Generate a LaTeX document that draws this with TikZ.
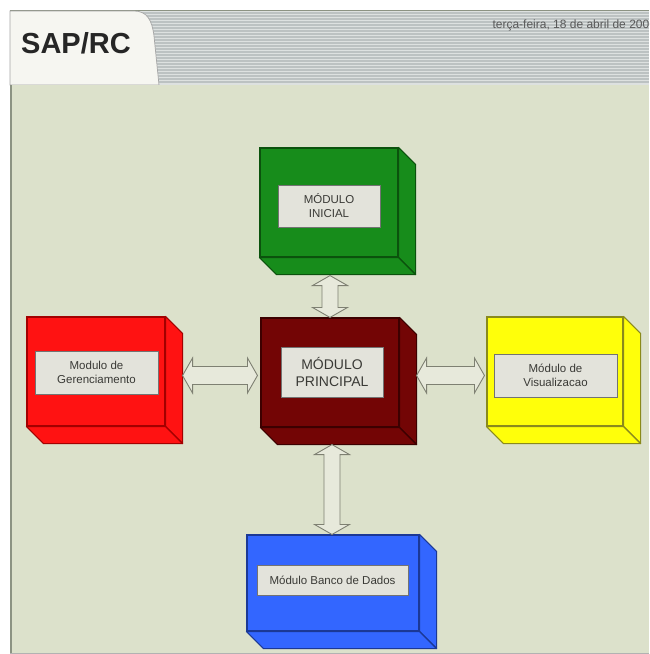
\documentclass[tikz,border=0pt]{standalone}
\usepackage{fontspec}
\setmainfont{Liberation Sans}
\usetikzlibrary{calc}

\definecolor{bodybg}{HTML}{DCE1CB}
\definecolor{stripebg}{HTML}{DDE1E0}
\definecolor{stripeln}{HTML}{BCC2C2}
\definecolor{tabfill}{HTML}{F6F6F1}
\definecolor{framegray}{HTML}{8C9383}
\definecolor{lblfill}{HTML}{E3E3DB}
\definecolor{lbltext}{HTML}{3A3A36}
\definecolor{arrowln}{HTML}{7E8072}
\definecolor{arrowfill}{HTML}{E7E9DB}
\definecolor{gfill}{HTML}{178C1B}\definecolor{gedge}{HTML}{0B520D}
\definecolor{rfill}{HTML}{FF1212}\definecolor{redge}{HTML}{A30000}
\definecolor{mfill}{HTML}{730505}\definecolor{medge}{HTML}{3C0000}
\definecolor{yfill}{HTML}{FFFF0A}\definecolor{yedge}{HTML}{8A8A1C}
\definecolor{bfill}{HTML}{3366FF}\definecolor{bedge}{HTML}{1B3896}

% the two hidden faces of a box, hung on the front node's corners
\newcommand\boxfaces[4]{% node, depth, fill, edge
  \filldraw[fill=#3, draw=#4, line width=1.1pt, line join=round]
    (#1.north east) -- ++(#2,#2) -- ($(#1.south east)+(#2,#2)$)
    -- (#1.south east) -- cycle;
  \filldraw[fill=#3, draw=#4, line width=1.1pt, line join=round]
    (#1.south west) -- (#1.south east) -- ($(#1.south east)+(#2,#2)$)
    -- ($(#1.south west)+(#2,#2)$) -- cycle;
}
% horizontal two-headed block arrow between two tips
\newcommand\harrow[2]{%
  \filldraw[blockarrow] (#1) -- ($(#1)+(10,-17.5)$) -- ($(#1)+(10,-9)$)
    -- ($(#2)+(-10,-9)$) -- ($(#2)+(-10,-17.5)$) -- (#2)
    -- ($(#2)+(-10,17.5)$) -- ($(#2)+(-10,9)$) -- ($(#1)+(10,9)$)
    -- ($(#1)+(10,17.5)$) -- cycle;
}
% vertical two-headed block arrow between two tips (first one on top)
\newcommand\varrow[2]{%
  \filldraw[blockarrow] (#1) -- ($(#1)+(17.5,10)$) -- ($(#1)+(8,10)$)
    -- ($(#2)+(8,-10)$) -- ($(#2)+(17.5,-10)$) -- (#2)
    -- ($(#2)+(-17.5,-10)$) -- ($(#2)+(-8,-10)$) -- ($(#1)+(-8,10)$)
    -- ($(#1)+(-17.5,10)$) -- cycle;
}

\begin{document}
\begin{tikzpicture}[x=1pt,y=-1pt,
  front/.style={draw=#1, line width=1.1pt, inner sep=0pt},
  lbl/.style={draw=black!55, line width=0.7pt, fill=lblfill, inner sep=0pt,
    align=center, text=lbltext, font=\fontsize{11.5}{14}\selectfont},
  blockarrow/.style={draw=arrowln, fill=arrowfill, line width=0.9pt, line join=miter},
  stripe/.style={draw=stripeln, line width=1.1pt}]

\useasboundingbox (0,0) rectangle (649,654);
\fill[white] (0,0) rectangle (649,654);

% header band
\fill[stripebg] (10,10) rectangle (649,85);
\foreach \y in {13,16,...,83} \draw[stripe] (10,\y) -- (649,\y);
\draw[framegray, line width=1.2pt] (10,10.6) -- (649,10.6);
\filldraw[fill=tabfill, draw=black!35, line width=0.7pt]
  (10,11) -- (134,11) .. controls (147,11) and (152,20) .. (154,36)
  -- (159,85) -- (10,85) -- cycle;
\node[anchor=center, font=\fontsize{29}{32}\selectfont\bfseries, text=black!85]
  (title) at (76,43) {SAP/RC};
\node[anchor=base west, font=\fontsize{12}{14}\selectfont, text=black!65]
  (date) at (489,28) {terça-feira, 18 de abril de 2006};

% body panel
\fill[bodybg] (10,85) rectangle (649,654);
\draw[framegray, line width=2pt] (11,85) -- (11,654);
\draw[black!30, line width=0.8pt] (10,653) -- (649,653);

% modules
\node[front=gedge, fill=gfill, minimum width=138, minimum height=109] (ini) at (329,202.5) {};
\boxfaces{ini}{17}{gfill}{gedge}
\node[lbl, minimum width=102, minimum height=42] (iniL) at (329,206) {MÓDULO\\INICIAL};

\node[front=redge, fill=rfill, minimum width=138, minimum height=109] (ger) at (96,371.5) {};
\boxfaces{ger}{17}{rfill}{redge}
\node[lbl, minimum width=123, minimum height=43] (gerL) at (96.5,372.5) {Modulo de\\Gerenciamento};

\node[front=medge, fill=mfill, minimum width=138, minimum height=109] (main) at (330,372.5) {};
\boxfaces{main}{17}{mfill}{medge}
\node[lbl, minimum width=102, minimum height=50, font=\fontsize{14}{17}\selectfont] (mainL) at (332,372) {MÓDULO\\PRINCIPAL};

\node[front=yedge, fill=yfill, minimum width=136, minimum height=109] (vis) at (555,371.5) {};
\boxfaces{vis}{17}{yfill}{yedge}
\node[lbl, minimum width=123, minimum height=43] (visL) at (555.5,375.5) {Módulo de\\Visualizacao};

\node[front=bedge, fill=bfill, minimum width=172, minimum height=96] (bd) at (333,583) {};
\boxfaces{bd}{17}{bfill}{bedge}
\node[lbl, minimum width=151, minimum height=30] (bdL) at (332.5,580) {Módulo Banco de Dados};

% arrow tips
\coordinate (l1) at ($(ger.east)+(17,4)$);
\coordinate (l2) at ($(main.west)+(-3,3)$);
\coordinate (r1) at ($(main.east)+(17,3)$);
\coordinate (r2) at ($(vis.west)+(-2,4)$);
\coordinate (t1) at ($(ini.south)+(1,18)$);
\coordinate (t2) at (main.north);
\coordinate (b1) at ($(main.south)+(2,17)$);
\coordinate (b2) at ($(bd.north)+(-1,0)$);

\harrow{l1}{l2}
\harrow{r1}{r2}
\varrow{t1}{t2}
\varrow{b1}{b2}

\end{tikzpicture}
\end{document}
